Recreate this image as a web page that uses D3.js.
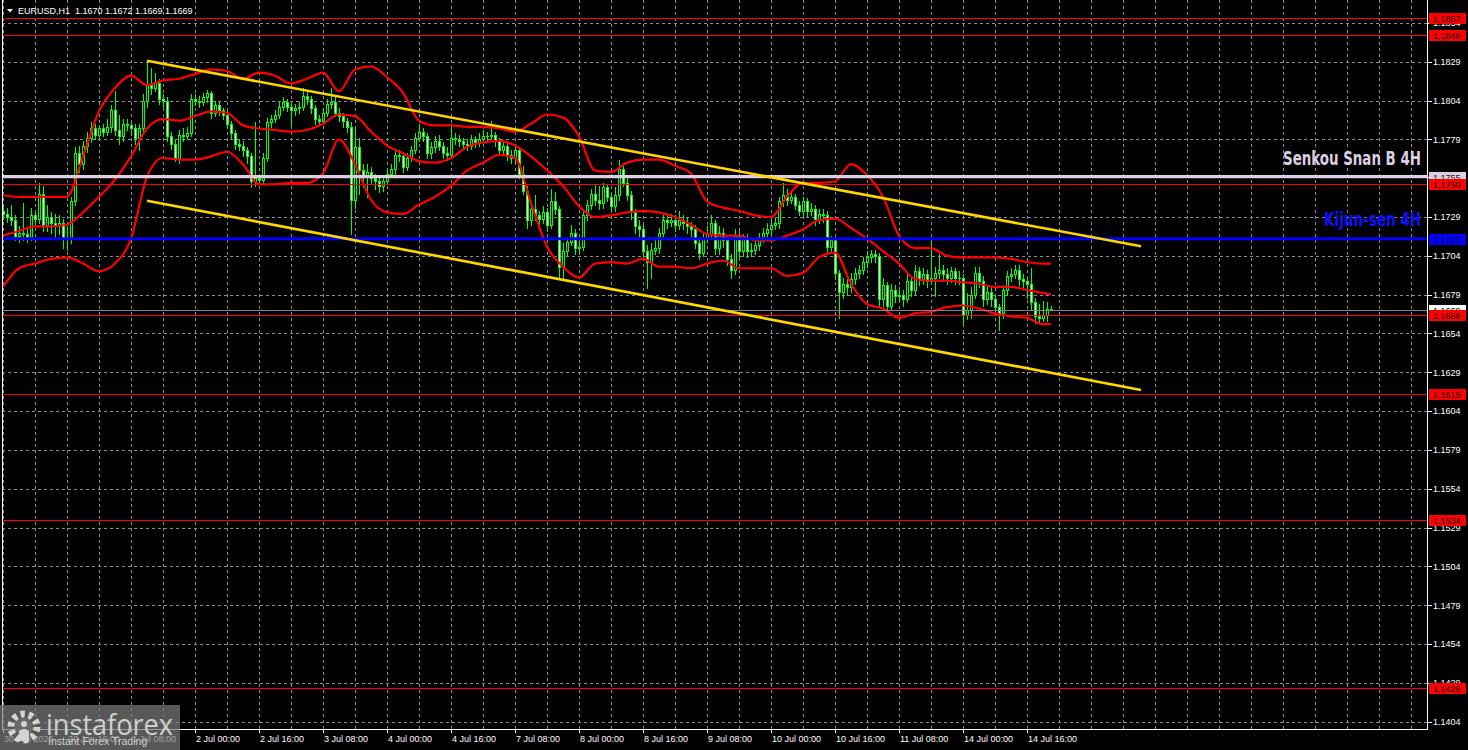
<!DOCTYPE html>
<html><head><meta charset="utf-8">
<script src="https://cdn.jsdelivr.net/npm/d3@7"></script>
<style>html,body{margin:0;padding:0;background:#000;overflow:hidden}svg{display:block}</style>
</head><body>
<svg id="c" width="1468" height="750"></svg>
<script>
// ---------- DATA (EURUSD H1) ----------
const symbolTitle = "EURUSD,H1  1.1670 1.1672 1.1669 1.1669";
const firstOpen = 1.1733;
const closes = [1.1731,1.1729,1.1727,1.1717,1.1719,1.1718,1.1716,1.1730,1.1728,1.1744,
1.1724,1.1729,1.1725,1.1724,1.1725,1.1715,1.1716,1.1739,1.1770,1.1763,
1.1775,1.1780,1.1786,1.1782,1.1786,1.1784,1.1787,1.1798,1.1785,1.1781,
1.1789,1.1788,1.1786,1.1780,1.1786,1.1804,1.1814,1.1812,1.1815,1.1805,
1.1804,1.1781,1.1776,1.1767,1.1782,1.1781,1.1783,1.1805,1.1804,1.1803,
1.1806,1.1809,1.1796,1.1801,1.1798,1.1795,1.1789,1.1783,1.1776,1.1775,
1.1772,1.1768,1.1752,1.1754,1.1753,1.1767,1.1790,1.1792,1.1795,1.1800,
1.1803,1.1800,1.1798,1.1799,1.1800,1.1807,1.1805,1.1799,1.1792,1.1791,
1.1796,1.1802,1.1803,1.1796,1.1794,1.1791,1.1787,1.1740,1.1774,1.1759,
1.1756,1.1758,1.1754,1.1752,1.1749,1.1752,1.1757,1.1760,1.1769,1.1768,
1.1761,1.1767,1.1772,1.1780,1.1784,1.1781,1.1770,1.1774,1.1778,1.1775,
1.1770,1.1769,1.1780,1.1779,1.1778,1.1776,1.1775,1.1779,1.1777,1.1779,
1.1781,1.1781,1.1782,1.1778,1.1772,1.1775,1.1769,1.1767,1.1772,1.1757,
1.1746,1.1727,1.1734,1.1730,1.1728,1.1732,1.1724,1.1739,1.1734,1.1697,
1.1707,1.1713,1.1719,1.1709,1.1710,1.1730,1.1737,1.1744,1.1740,1.1738,
1.1748,1.1742,1.1736,1.1743,1.1760,1.1751,1.1743,1.1732,1.1723,1.1721,
1.1707,1.1700,1.1708,1.1709,1.1719,1.1727,1.1726,1.1727,1.1724,1.1727,
1.1725,1.1723,1.1721,1.1712,1.1706,1.1715,1.1718,1.1725,1.1709,1.1719,
1.1714,1.1702,1.1695,1.1717,1.1707,1.1715,1.1707,1.1708,1.1711,1.1716,
1.1719,1.1721,1.1724,1.1725,1.1739,1.1743,1.1740,1.1742,1.1737,1.1733,
1.1739,1.1733,1.1734,1.1728,1.1731,1.1730,1.1710,1.1714,1.1693,1.1681,
1.1686,1.1684,1.1689,1.1693,1.1695,1.1700,1.1703,1.1705,1.1704,1.1676,
1.1685,1.1672,1.1682,1.1678,1.1679,1.1676,1.1688,1.1682,1.1694,1.1689,
1.1692,1.1688,1.1690,1.1693,1.1695,1.1692,1.1690,1.1694,1.1690,1.1690,
1.1666,1.1669,1.1679,1.1693,1.1688,1.1676,1.1681,1.1676,1.1671,1.1667,
1.1682,1.1691,1.1692,1.1695,1.1689,1.1688,1.1686,1.1674,1.1665,1.1664,
1.1666,1.1670,1.1669];
const highs = [1.1736,1.1735,1.1737,1.1730,1.1723,1.1738,1.1722,1.1735,1.1733,1.1751,
1.1749,1.1737,1.1732,1.1731,1.1730,1.1728,1.1723,1.1742,1.1774,1.1775,
1.1778,1.1784,1.1790,1.1789,1.1788,1.1789,1.1792,1.1801,1.1810,1.1795,
1.1792,1.1792,1.1790,1.1789,1.1789,1.1808,1.1830,1.1825,1.1822,1.1818,
1.1808,1.1806,1.1784,1.1779,1.1785,1.1786,1.1787,1.1808,1.1808,1.1807,
1.1809,1.1811,1.1810,1.1804,1.1803,1.1799,1.1797,1.1791,1.1785,1.1779,
1.1778,1.1774,1.1770,1.1790,1.1757,1.1770,1.1793,1.1795,1.1798,1.1803,
1.1806,1.1805,1.1802,1.1802,1.1803,1.1812,1.1810,1.1807,1.1801,1.1795,
1.1799,1.1805,1.1812,1.1806,1.1799,1.1796,1.1793,1.1790,1.1787,1.1780,
1.1763,1.1763,1.1761,1.1757,1.1754,1.1755,1.1760,1.1763,1.1772,1.1772,
1.1770,1.1770,1.1775,1.1783,1.1789,1.1786,1.1783,1.1777,1.1781,1.1782,
1.1777,1.1774,1.1789,1.1783,1.1782,1.1780,1.1779,1.1782,1.1781,1.1783,
1.1785,1.1784,1.1791,1.1784,1.1780,1.1778,1.1777,1.1772,1.1775,1.1774,
1.1762,1.1749,1.1737,1.1743,1.1733,1.1736,1.1735,1.1747,1.1745,1.1736,
1.1712,1.1716,1.1724,1.1721,1.1713,1.1733,1.1740,1.1747,1.1750,1.1749,
1.1751,1.1750,1.1744,1.1748,1.1766,1.1764,1.1754,1.1746,1.1734,1.1727,
1.1724,1.1711,1.1712,1.1716,1.1722,1.1730,1.1730,1.1731,1.1730,1.1733,
1.1730,1.1729,1.1726,1.1724,1.1715,1.1719,1.1723,1.1730,1.1727,1.1723,
1.1722,1.1716,1.1705,1.1721,1.1720,1.1718,1.1718,1.1712,1.1715,1.1719,
1.1722,1.1725,1.1728,1.1729,1.1742,1.1751,1.1747,1.1745,1.1744,1.1739,
1.1742,1.1741,1.1738,1.1737,1.1734,1.1734,1.1733,1.1717,1.1716,1.1695,
1.1690,1.1689,1.1693,1.1696,1.1698,1.1703,1.1707,1.1708,1.1708,1.1706,
1.1690,1.1687,1.1686,1.1685,1.1684,1.1682,1.1692,1.1690,1.1698,1.1697,
1.1696,1.1695,1.1715,1.1697,1.1705,1.1698,1.1696,1.1697,1.1696,1.1694,
1.1692,1.1680,1.1684,1.1697,1.1697,1.1691,1.1685,1.1684,1.1679,1.1673,
1.1685,1.1694,1.1696,1.1698,1.1698,1.1692,1.1690,1.1696,1.1677,1.1673,
1.1675,1.1674,1.1672];
const lows = [1.1728,1.1726,1.1724,1.1714,1.1713,1.1714,1.1713,1.1714,1.1724,1.1725,
1.1720,1.1720,1.1719,1.1716,1.1718,1.1709,1.1708,1.1712,1.1737,1.1758,
1.1760,1.1771,1.1777,1.1779,1.1780,1.1781,1.1782,1.1784,1.1782,1.1776,
1.1778,1.1785,1.1782,1.1776,1.1772,1.1784,1.1800,1.1808,1.1810,1.1802,
1.1800,1.1778,1.1773,1.1765,1.1764,1.1778,1.1779,1.1781,1.1801,1.1800,
1.1801,1.1803,1.1793,1.1794,1.1795,1.1792,1.1786,1.1780,1.1773,1.1772,
1.1768,1.1764,1.1748,1.1749,1.1750,1.1750,1.1765,1.1787,1.1790,1.1793,
1.1798,1.1797,1.1788,1.1795,1.1796,1.1798,1.1802,1.1796,1.1789,1.1788,
1.1789,1.1794,1.1799,1.1794,1.1791,1.1787,1.1784,1.1718,1.1735,1.1744,
1.1748,1.1742,1.1751,1.1747,1.1745,1.1746,1.1750,1.1755,1.1757,1.1765,
1.1758,1.1759,1.1765,1.1770,1.1778,1.1778,1.1767,1.1767,1.1771,1.1772,
1.1767,1.1766,1.1767,1.1776,1.1775,1.1773,1.1772,1.1773,1.1774,1.1775,
1.1777,1.1778,1.1779,1.1775,1.1769,1.1769,1.1766,1.1764,1.1763,1.1754,
1.1744,1.1722,1.1724,1.1727,1.1724,1.1725,1.1720,1.1722,1.1731,1.1689,
1.1689,1.1704,1.1711,1.1705,1.1706,1.1708,1.1727,1.1734,1.1737,1.1734,
1.1735,1.1739,1.1733,1.1733,1.1740,1.1749,1.1740,1.1728,1.1719,1.1717,
1.1703,1.1683,1.1690,1.1705,1.1706,1.1716,1.1722,1.1723,1.1720,1.1721,
1.1721,1.1719,1.1716,1.1709,1.1702,1.1704,1.1713,1.1715,1.1705,1.1705,
1.1710,1.1698,1.1690,1.1692,1.1703,1.1704,1.1703,1.1704,1.1705,1.1708,
1.1713,1.1716,1.1718,1.1721,1.1722,1.1736,1.1737,1.1738,1.1734,1.1730,
1.1730,1.1729,1.1730,1.1724,1.1725,1.1726,1.1706,1.1706,1.1689,1.1664,
1.1677,1.1679,1.1681,1.1686,1.1690,1.1692,1.1697,1.1700,1.1700,1.1671,
1.1672,1.1668,1.1669,1.1674,1.1675,1.1672,1.1674,1.1678,1.1679,1.1685,
1.1686,1.1684,1.1686,1.1678,1.1690,1.1688,1.1686,1.1687,1.1686,1.1686,
1.1661,1.1663,1.1664,1.1677,1.1684,1.1672,1.1673,1.1672,1.1667,1.1656,
1.1664,1.1679,1.1688,1.1690,1.1685,1.1684,1.1677,1.1670,1.1661,1.1661,
1.1662,1.1662,1.1669];
// opening price of each hour = close of the previous hour
const opens = closes.map((c, i) => i === 0 ? firstOpen : closes[i - 1]);

// Bollinger band readings, one every 4 bars (bar 0,4,...,260) plus the last bar 262
const bandBars = d3.range(0, 261, 4).concat([262]);
const bandUpper = [1.1743,1.1742,1.1742,1.1742,1.1742,1.1768,1.1797,1.1812,1.1820,1.1814,
1.1817,1.1818,1.1821,1.1824,1.1823,1.1818,1.1822,1.1820,1.1815,1.1818,
1.1822,1.1810,1.1824,1.1826,1.1819,1.1809,1.1791,1.1788,1.1788,1.1787,
1.1787,1.1786,1.1784,1.1789,1.1795,1.1793,1.1781,1.1759,1.1758,1.1764,
1.1766,1.1766,1.1762,1.1757,1.1739,1.1735,1.1733,1.1730,1.1729,1.1742,
1.1751,1.1751,1.1752,1.1763,1.1756,1.1742,1.1717,1.1709,1.1709,1.1704,
1.1703,1.1703,1.1703,1.1702,1.1700,1.1699,1.1699];
const bandMiddle = [1.1717,1.1720,1.1723,1.1723,1.1724,1.1732,1.1742,1.1753,1.1768,1.1786,
1.1792,1.1791,1.1794,1.1797,1.1796,1.1788,1.1786,1.1785,1.1784,1.1785,
1.1789,1.1795,1.1794,1.1784,1.1775,1.1770,1.1765,1.1764,1.1767,1.1774,
1.1777,1.1778,1.1775,1.1768,1.1759,1.1749,1.1736,1.1729,1.1730,1.1732,
1.1733,1.1732,1.1729,1.1724,1.1718,1.1717,1.1717,1.1714,1.1714,1.1717,
1.1721,1.1727,1.1728,1.1722,1.1715,1.1707,1.1699,1.1689,1.1688,1.1688,
1.1687,1.1686,1.1684,1.1684,1.1682,1.1680,1.1679];
const bandLower = [1.1684,1.1696,1.1699,1.1702,1.1703,1.1699,1.1694,1.1699,1.1715,1.1755,
1.1767,1.1766,1.1766,1.1768,1.1771,1.1763,1.1750,1.1750,1.1751,1.1751,
1.1757,1.1779,1.1763,1.1740,1.1732,1.1731,1.1737,1.1742,1.1749,1.1759,
1.1764,1.1769,1.1767,1.1738,1.1710,1.1697,1.1690,1.1699,1.1700,1.1699,
1.1702,1.1697,1.1697,1.1696,1.1699,1.1701,1.1696,1.1696,1.1696,1.1691,
1.1693,1.1703,1.1706,1.1686,1.1673,1.1670,1.1664,1.1667,1.1668,1.1671,
1.1672,1.1670,1.1667,1.1665,1.1664,1.1660,1.1660];

// channel trend lines (bar index, price)
const channelBars = [36, 284.5];
const channelUpper = [1.18296, 1.17101];
const channelLower = [1.17395, 1.16176];

// horizontal levels
const redLevels = [1.1857, 1.1846, 1.1750, 1.1666, 1.1615, 1.1534, 1.1426];
const senkouLevel = 1.1755;
const kijunLevel = 1.1715;
const bidPrice = 1.1669;

// axes
const priceTicks = [1.1854,1.1829,1.1804,1.1779,1.1755,1.1729,1.1704,1.1679,1.1654,1.1629,
1.1604,1.1579,1.1554,1.1529,1.1504,1.1479,1.1454,1.1429,1.1404];
const timeTickBars = [0,16,32,48,64,80,96,112,128,144,160,176,192,208,224,240,256];
const timeTickLabels = ["30 Jun 2025","30 Jun 16:00","1 Jul 08:00","2 Jul 00:00","2 Jul 16:00",
"3 Jul 08:00","4 Jul 00:00","4 Jul 16:00","7 Jul 08:00","8 Jul 00:00","8 Jul 16:00",
"9 Jul 08:00","10 Jul 00:00","10 Jul 16:00","11 Jul 08:00","14 Jul 00:00","14 Jul 16:00"];

// ---------- DRAWING ----------
const svg = d3.select('#c');
const plotL = 2, plotR = 1428, plotB = 729;
const x = d3.scaleLinear().domain([0, 356]).range([3, 1427]);
const y = d3.scaleLinear().domain([1.1829, 1.1404]).range([61.7, 721.7]);
const px = v => Math.round(v) + 0.5;
const AXF = "'Liberation Sans', Arial, sans-serif";

svg.append('rect').attr('width', 1468).attr('height', 750).attr('fill', '#000');
svg.append('defs').append('clipPath').attr('id', 'clip')
  .append('rect').attr('x', plotL).attr('y', 0).attr('width', plotR - plotL).attr('height', plotB);

const plot = svg.append('g').attr('clip-path', 'url(#clip)');

// grid
const gridG = plot.append('g').attr('stroke', '#8c8c8c').attr('stroke-width', 1).attr('stroke-dasharray', '3,3');
gridG.selectAll('line.v').data(d3.range(0, 357, 8)).join('line')
  .attr('x1', d => px(x(d))).attr('x2', d => px(x(d))).attr('y1', 0).attr('y2', plotB);
gridG.selectAll('line.h').data(priceTicks).join('line')
  .attr('x1', plotL).attr('x2', plotR).attr('y1', d => px(y(d))).attr('y2', d => px(y(d)));

// candles
const candles = closes.map((c, i) => ({ i, o: opens[i], h: highs[i], l: lows[i], c }));
const cg = plot.append('g');
cg.selectAll('line.wick').data(candles).join('line')
  .attr('x1', d => px(x(d.i))).attr('x2', d => px(x(d.i)))
  .attr('y1', d => Math.round(y(Math.max(d.h, d.o, d.c))))
  .attr('y2', d => Math.round(y(Math.min(d.l, d.o, d.c))) + 1)
  .attr('stroke', '#00ff00').attr('stroke-width', 1);
const bodyTop = d => Math.round(y(Math.max(d.o, d.c)));
const bodyH = d => Math.max(1, Math.round(y(Math.min(d.o, d.c))) - bodyTop(d) + 1);
cg.selectAll('rect.body').data(candles).join('rect')
  .attr('x', d => Math.round(x(d.i)) - 1).attr('width', 3)
  .attr('y', bodyTop).attr('height', bodyH).attr('fill', '#00ff00');
cg.selectAll('rect.inner').data(candles.filter(d => bodyH(d) > 2)).join('rect')
  .attr('x', d => Math.round(x(d.i))).attr('width', 1)
  .attr('y', d => bodyTop(d) + 1).attr('height', d => bodyH(d) - 2)
  .attr('fill', d => d.c < d.o ? '#ffffff' : '#000000');

// Bollinger bands
const bandLine = vals => d3.line().x((d, k) => x(bandBars[k])).y(d => y(d)).curve(d3.curveMonotoneX)(vals);
[bandUpper, bandMiddle, bandLower].forEach(vals => {
  plot.append('path').attr('d', bandLine(vals)).attr('fill', 'none')
    .attr('stroke', '#ff0000').attr('stroke-width', 2.2).attr('stroke-linejoin', 'round');
});

// bid line
plot.append('line').attr('x1', plotL).attr('x2', plotR).attr('y1', px(y(bidPrice))).attr('y2', px(y(bidPrice)))
  .attr('stroke', '#778899').attr('stroke-width', 1);

// red levels
plot.selectAll('line.lvl').data(redLevels).join('line')
  .attr('x1', plotL).attr('x2', plotR).attr('y1', d => px(y(d))).attr('y2', d => px(y(d)))
  .attr('stroke', '#ff0000').attr('stroke-width', 1);
// senkou / kijun lines
plot.append('line').attr('x1', plotL).attr('x2', plotR).attr('y1', y(senkouLevel)).attr('y2', y(senkouLevel))
  .attr('stroke', '#dccfe2').attr('stroke-width', 3.4);
plot.append('line').attr('x1', plotL).attr('x2', plotR).attr('y1', y(kijunLevel)).attr('y2', y(kijunLevel))
  .attr('stroke', '#0000ff').attr('stroke-width', 3);

// channel
[channelUpper, channelLower].forEach(p => {
  plot.append('line').attr('x1', x(channelBars[0])).attr('y1', y(p[0]))
    .attr('x2', x(channelBars[1])).attr('y2', y(p[1]))
    .attr('stroke', '#ffd700').attr('stroke-width', 2.6);
});

// text objects
plot.append('text').attr('x', 1283).attr('y', 165).attr('textLength', 138).attr('lengthAdjust', 'spacingAndGlyphs')
  .attr('font-family', "'Liberation Sans Narrow','DejaVu Sans Condensed','Liberation Sans',sans-serif")
  .attr('font-weight', 'bold').attr('font-size', 20).attr('fill', '#dccfe2').text('Senkou Snan B 4H');
plot.append('text').attr('x', 1324).attr('y', 225.5).attr('textLength', 97).attr('lengthAdjust', 'spacingAndGlyphs')
  .attr('font-family', "'Liberation Sans Narrow','DejaVu Sans Condensed','Liberation Sans',sans-serif")
  .attr('font-weight', 'bold').attr('font-size', 20).attr('fill', '#1010ff').text('Kijun-sen 4H');

// frame
const fr = svg.append('g').attr('stroke', '#ffffff').attr('stroke-width', 1);
fr.append('line').attr('x1', 2.5).attr('x2', 2.5).attr('y1', 0).attr('y2', plotB + 0.5);
fr.append('line').attr('x1', plotR - 0.5).attr('x2', plotR - 0.5).attr('y1', 0).attr('y2', plotB + 0.5);
fr.append('line').attr('x1', 2).attr('x2', plotR).attr('y1', plotB + 0.5).attr('y2', plotB + 0.5);

// right price axis
const ya = svg.append('g');
ya.selectAll('line').data(priceTicks).join('line')
  .attr('x1', plotR).attr('x2', plotR + 4).attr('y1', d => px(y(d))).attr('y2', d => px(y(d)))
  .attr('stroke', '#fff');
ya.selectAll('text').data(priceTicks).join('text')
  .attr('x', 1433).attr('y', d => y(d) + 3.3).attr('font-family', AXF).attr('font-size', 9)
  .attr('fill', '#fff').text(d => d.toFixed(4));

// bottom time axis
const xa = svg.append('g');
xa.selectAll('line').data(timeTickBars).join('line')
  .attr('x1', d => px(x(d))).attr('x2', d => px(x(d))).attr('y1', plotB).attr('y2', plotB + 4)
  .attr('stroke', '#fff');
xa.selectAll('text').data(timeTickBars).join('text')
  .attr('x', d => Math.round(x(d)) + 1).attr('y', 742).attr('font-family', AXF).attr('font-size', 9)
  .attr('fill', '#fff').text((d, k) => timeTickLabels[k]);

// price labels on the axis
function priceBox(v, fill, textFill) {
  const g = svg.append('g');
  g.append('rect').attr('x', 1429).attr('y', Math.round(y(v)) - 5).attr('width', 37).attr('height', 11).attr('fill', fill);
  g.append('text').attr('x', 1433).attr('y', Math.round(y(v)) + 3.5).attr('font-family', AXF)
    .attr('font-size', 9).attr('fill', textFill).text(v.toFixed(4));
}
priceBox(senkouLevel, '#dccfe2', '#222');
priceBox(kijunLevel, '#0000ff', '#000033');
priceBox(bidPrice, '#ffffff', '#000');
redLevels.forEach(v => priceBox(v, '#ff0000', '#1a0000'));

// title
svg.append('path').attr('d', 'M7,9 L13,9 L10,12.5 Z').attr('fill', '#fff');
svg.append('text').attr('x', 18).attr('y', 14).attr('font-family', AXF).attr('font-size', 9)
  .attr('fill', '#fff').attr('xml:space', 'preserve').style('white-space', 'pre').text(symbolTitle);

// watermark logo
const logo = svg.append('g');
logo.append('rect').attr('x', 0).attr('y', 705).attr('width', 180).attr('height', 45).attr('fill', '#7a7a7a').attr('opacity', 0.72);
logo.append('circle').attr('cx', 24).attr('cy', 727).attr('r', 13).attr('fill', 'none')
  .attr('stroke', '#d4d4d4').attr('stroke-width', 7).attr('stroke-dasharray', '4.3,3.9');
logo.append('circle').attr('cx', 24).attr('cy', 727).attr('r', 9).attr('fill', '#6a6a6a');
logo.append('circle').attr('cx', 24).attr('cy', 724).attr('r', 3).attr('fill', '#d4d4d4');
logo.append('path').attr('d', 'M19,741 L19,731 Q24,727 29,731 L29,741 Z').attr('fill', '#d4d4d4');
logo.append('text').attr('x', 46).attr('y', 735).attr('textLength', 127).attr('lengthAdjust', 'spacingAndGlyphs')
  .attr('font-family', "'Open Sans','Liberation Sans',sans-serif").attr('font-size', 30)
  .attr('fill', '#cfcfcf').text('instaforex');
logo.append('text').attr('x', 48).attr('y', 745).attr('font-family', AXF).attr('font-size', 10.5)
  .attr('fill', '#cfcfcf').text('Instant Forex Trading');
</script>
</body></html>
